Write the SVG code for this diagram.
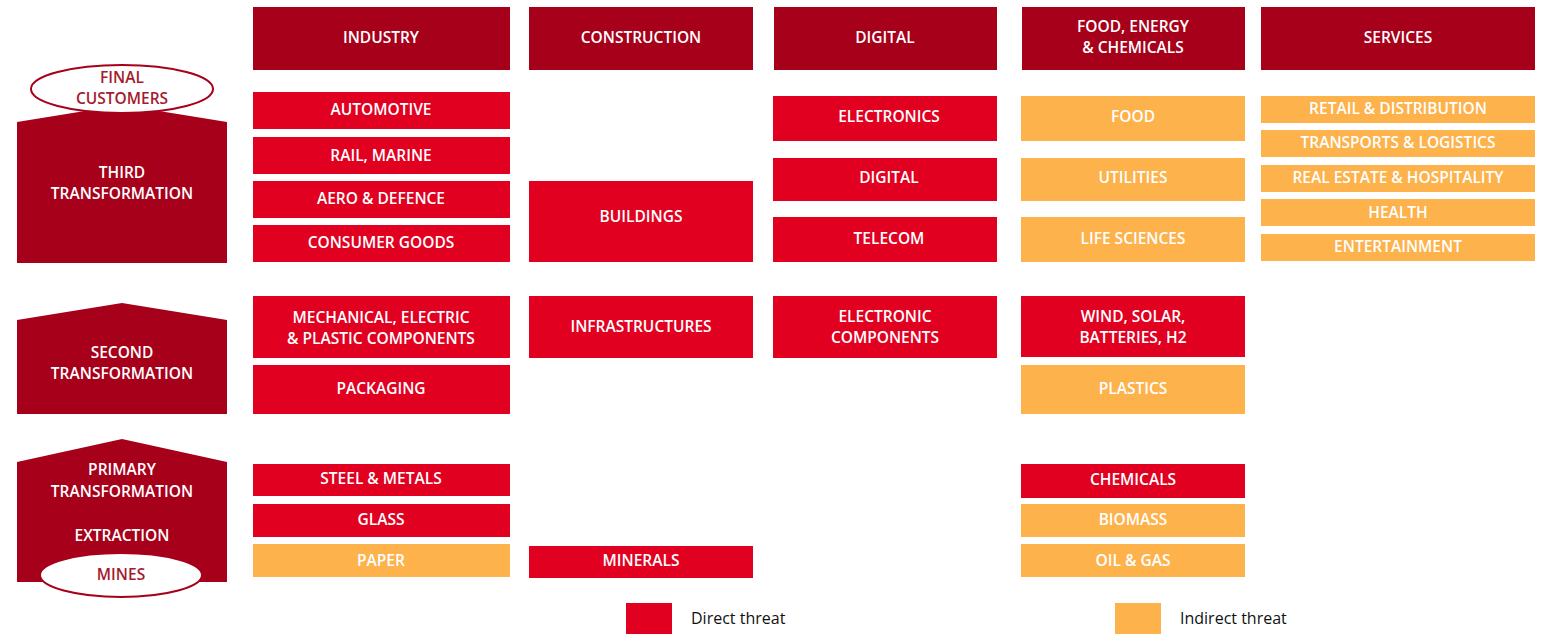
<svg xmlns="http://www.w3.org/2000/svg" width="1541" height="634" viewBox="0 0 1541 634">
<style>
.hd{fill:#a6001a}
.d{fill:#e10020}
.i{fill:#fdb24b}
text{font-family:"Open Sans","Noto Sans",sans-serif;font-size:15.5px;font-weight:600;fill:#fff;text-anchor:middle;dominant-baseline:central;transform:translateY(-1px)}
.el{fill:#fff;stroke:#a6001a;stroke-width:2}
.et{fill:#a6192e}
.lg{fill:#111;font-size:16px;font-weight:500;text-anchor:start}
</style>
<rect width="1541" height="634" fill="#fff"/>
<g id="level-third">
<polygon class="hd" points="17,122 122,105 227,122 227,263 17,263"/>
<text x="122" y="173">THIRD</text><text x="122" y="194">TRANSFORMATION</text>
</g>
<g id="final-customers">
<ellipse class="el" cx="122" cy="89" rx="91" ry="24"/>
<text class="et" x="122" y="78">FINAL</text><text class="et" x="122" y="99">CUSTOMERS</text>
</g>
<g id="level-second">
<polygon class="hd" points="17,320 122,303 227,320 227,414 17,414"/>
<text x="122" y="353">SECOND</text><text x="122" y="374">TRANSFORMATION</text>
</g>
<g id="level-primary">
<polygon class="hd" points="17,462 122,439 227,462 227,582 17,582"/>
<text x="122" y="470">PRIMARY</text><text x="122" y="492">TRANSFORMATION</text>
<text x="122" y="536">EXTRACTION</text>
</g>
<g id="mines">
<ellipse class="el" cx="121" cy="575" rx="81" ry="22"/>
<text class="et" x="121" y="575">MINES</text>
</g>

<g id="h-industry"><rect class="hd" x="253" y="7" width="257" height="63"/><text x="381" y="38">INDUSTRY</text></g>
<g id="h-construction"><rect class="hd" x="529" y="7" width="224" height="63"/><text x="641" y="38">CONSTRUCTION</text></g>
<g id="h-digital"><rect class="hd" x="774" y="7" width="223" height="63"/><text x="885" y="38">DIGITAL</text></g>
<g id="h-food"><rect class="hd" x="1022" y="7" width="223" height="63"/><text x="1133" y="27">FOOD, ENERGY</text><text x="1133" y="48">&amp; CHEMICALS</text></g>
<g id="h-services"><rect class="hd" x="1261" y="7" width="274" height="63"/><text x="1398" y="38">SERVICES</text></g>

<g id="automotive"><rect class="d" x="253" y="92" width="257" height="37"/><text x="381" y="110">AUTOMOTIVE</text></g>
<g id="rail"><rect class="d" x="253" y="137" width="257" height="37"/><text x="381" y="156">RAIL, MARINE</text></g>
<g id="aero"><rect class="d" x="253" y="181" width="257" height="37"/><text x="381" y="199">AERO &amp; DEFENCE</text></g>
<g id="consumer"><rect class="d" x="253" y="225" width="257" height="37"/><text x="381" y="243">CONSUMER GOODS</text></g>
<g id="mechanical"><rect class="d" x="253" y="296" width="257" height="62"/><text x="381" y="318">MECHANICAL, ELECTRIC</text><text x="381" y="339">&amp; PLASTIC COMPONENTS</text></g>
<g id="packaging"><rect class="d" x="253" y="365" width="257" height="49"/><text x="381" y="389">PACKAGING</text></g>
<g id="steel"><rect class="d" x="253" y="464" width="257" height="32"/><text x="381" y="479">STEEL &amp; METALS</text></g>
<g id="glass"><rect class="d" x="253" y="504" width="257" height="33"/><text x="381" y="520">GLASS</text></g>
<g id="paper"><rect class="i" x="253" y="544" width="257" height="33"/><text x="381" y="561">PAPER</text></g>

<g id="buildings"><rect class="d" x="529" y="181" width="224" height="81"/><text x="641" y="217">BUILDINGS</text></g>
<g id="infrastructures"><rect class="d" x="529" y="296" width="224" height="62"/><text x="641" y="327">INFRASTRUCTURES</text></g>
<g id="minerals"><rect class="d" x="529" y="546" width="224" height="32"/><text x="641" y="561">MINERALS</text></g>

<g id="electronics"><rect class="d" x="773" y="96" width="224" height="45"/><text x="889" y="117">ELECTRONICS</text></g>
<g id="digital"><rect class="d" x="773" y="158" width="224" height="43"/><text x="889" y="178">DIGITAL</text></g>
<g id="telecom"><rect class="d" x="773" y="217" width="224" height="45"/><text x="889" y="239">TELECOM</text></g>
<g id="electronic-components"><rect class="d" x="773" y="296" width="224" height="62"/><text x="885" y="317">ELECTRONIC</text><text x="885" y="338">COMPONENTS</text></g>

<g id="food"><rect class="i" x="1021" y="96" width="224" height="45"/><text x="1133" y="117">FOOD</text></g>
<g id="utilities"><rect class="i" x="1021" y="158" width="224" height="43"/><text x="1133" y="178">UTILITIES</text></g>
<g id="life-sciences"><rect class="i" x="1021" y="217" width="224" height="45"/><text x="1133" y="239">LIFE SCIENCES</text></g>
<g id="wind"><rect class="d" x="1021" y="296" width="224" height="61"/><text x="1133" y="317">WIND, SOLAR,</text><text x="1133" y="338">BATTERIES, H2</text></g>
<g id="plastics"><rect class="i" x="1021" y="365" width="224" height="49"/><text x="1133" y="389">PLASTICS</text></g>
<g id="chemicals"><rect class="d" x="1021" y="464" width="224" height="34"/><text x="1133" y="480">CHEMICALS</text></g>
<g id="biomass"><rect class="i" x="1021" y="504" width="224" height="33"/><text x="1133" y="520">BIOMASS</text></g>
<g id="oil-gas"><rect class="i" x="1021" y="544" width="224" height="33"/><text x="1133" y="561">OIL &amp; GAS</text></g>

<g id="retail"><rect class="i" x="1261" y="96" width="274" height="27"/><text x="1398" y="109">RETAIL &amp; DISTRIBUTION</text></g>
<g id="transports"><rect class="i" x="1261" y="130" width="274" height="27"/><text x="1398" y="143">TRANSPORTS &amp; LOGISTICS</text></g>
<g id="real-estate"><rect class="i" x="1261" y="165" width="274" height="27"/><text x="1398" y="178">REAL ESTATE &amp; HOSPITALITY</text></g>
<g id="health"><rect class="i" x="1261" y="199" width="274" height="27"/><text x="1398" y="213">HEALTH</text></g>
<g id="entertainment"><rect class="i" x="1261" y="234" width="274" height="27"/><text x="1398" y="247">ENTERTAINMENT</text></g>

<g id="connectors"></g>

<g id="legend">
<rect class="d" x="626" y="603" width="46" height="31"/>
<text class="lg" x="691" y="619">Direct threat</text>
<rect class="i" x="1115" y="603" width="46" height="31"/>
<text class="lg" x="1180" y="619">Indirect threat</text>
</g>
</svg>
